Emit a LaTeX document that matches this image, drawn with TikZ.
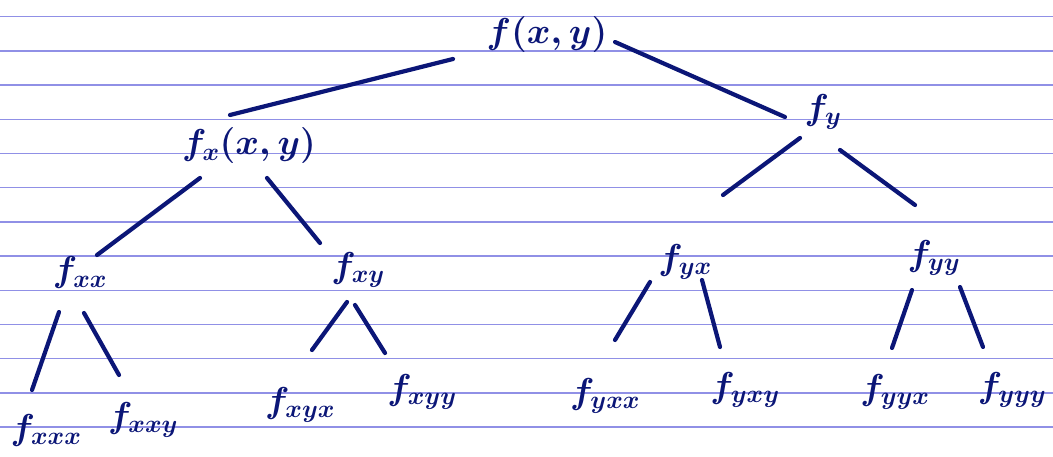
\RequirePackage{fix-cm}
\documentclass[tikz,border=0pt]{standalone}
\usepackage{amsmath}
\usepackage{tikz}
\usetikzlibrary{calc}
\definecolor{inkblue}{HTML}{0B1677}
\definecolor{rulelilac}{HTML}{9090E6}

\begin{document}
\begin{tikzpicture}[x=1pt,y=-1pt,
  term/.style={inner sep=1pt,text=inkblue,font=\fontsize{36}{42}\selectfont\boldmath},
  br/.style={inkblue,line width=4.2pt,line cap=round},
  ruled/.style={rulelilac,line width=1.3pt}]
  \useasboundingbox[fill=white] (0,0) rectangle (1053,457);
  % ruled paper
  \foreach \k in {0,...,12} \draw[ruled] (0,{16.7+34.2*\k}) -- (1053,{16.7+34.2*\k});
  % tree of partial derivatives
  \node[term] (root) at (547,35) {$f(x,y)$};
  \node[term] (fx) at (249,146) {$f_x(x,y)$};
  \node[term] (fy) at (823,112) {$f_y$};
  \node[term] (fxx) at (80,273) {$f_{xx}$};
  \node[term] (fxy) at (358,270) {$f_{xy}$};
  \node[term] (fyx) at (685,262) {$f_{yx}$};
  \node[term] (fyy) at (934,258) {$f_{yy}$};
  \node[term] (fxxx) at (46,430) {$f_{xxx}$};
  \node[term] (fxxy) at (143,420) {$f_{xxy}$};
  \node[term] (fxyx) at (300,405) {$f_{xyx}$};
  \node[term] (fxyy) at (422,392) {$f_{xyy}$};
  \node[term] (fyxx) at (605,396) {$f_{yxx}$};
  \node[term] (fyxy) at (745,390) {$f_{yxy}$};
  \node[term] (fyyx) at (895,392) {$f_{yyx}$};
  \node[term] (fyyy) at (1012,390) {$f_{yyy}$};
  \foreach \a/\ax/\ay/\b/\bx/\by in {
    root/-94/24/fx/-19/-31, root/68/7/fy/-38/5,
    fx/-49/32/fxx/17/-18, fx/18/32/fxy/-38/-27,
    fy/-23/26/fyx/38/-67, fy/17/38/fyy/-19/-53,
    fxx/-21/39/fxxx/-14/-40, fxx/4/40/fxxy/-24/-45,
    fxy/-11/32/fxyx/12/-55, fxy/-3/35/fxyy/-37/-39,
    fyx/-35/20/fyxx/10/-56, fyx/17/18/fyxy/-25/-43,
    fyy/-22/32/fyyx/-3/-44, fyy/26/29/fyyy/-29/-43}
    \draw[br] ($(\a)+(\ax,\ay)$) -- ($(\b)+(\bx,\by)$);
\end{tikzpicture}
\end{document}
